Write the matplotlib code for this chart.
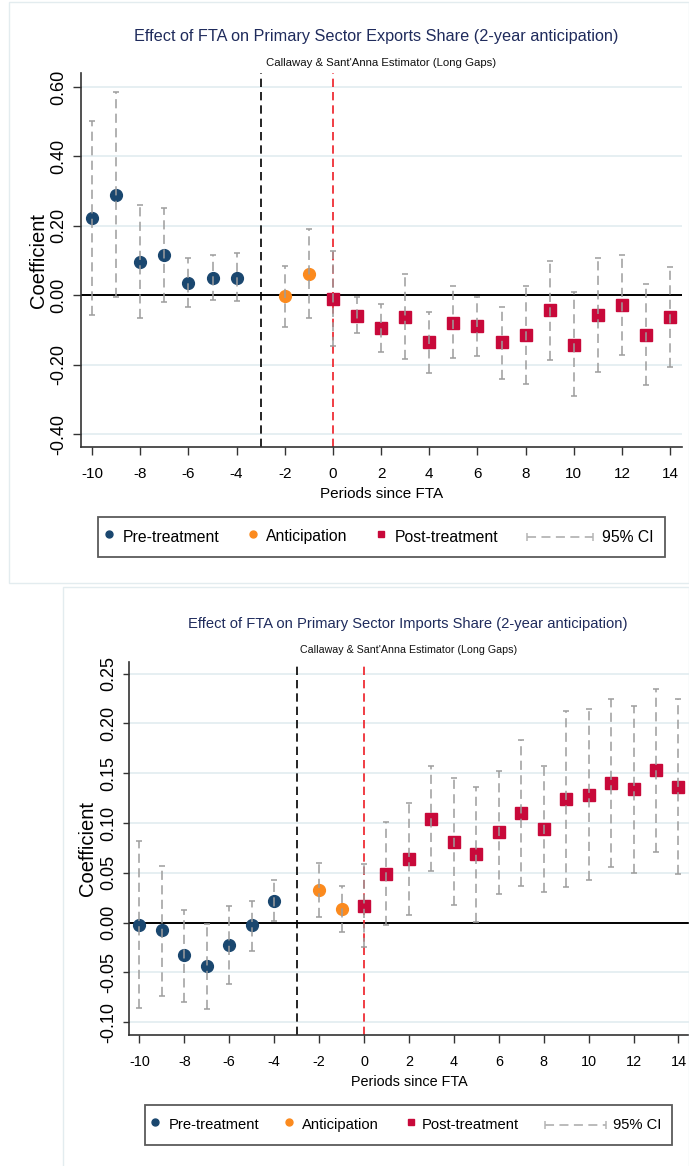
import matplotlib.pyplot as plt
import numpy as np
from matplotlib.lines import Line2D
from matplotlib.patches import Rectangle

plt.rcParams['font.family'] = ['Liberation Sans', 'DejaVu Sans']
plt.rcParams['axes.unicode_minus'] = False

W, H = 689, 1166

# event-time periods (period -3 is the omitted reference)
pre_periods = [-10, -9, -8, -7, -6, -5, -4]
ant_periods = [-2, -1]
post_periods = [0, 1, 2, 3, 4, 5, 6, 7, 8, 9, 10, 11, 12, 13, 14]

# exports share estimates and 95% bounds
exp_pre_coef = [0.223, 0.290, 0.096, 0.115, 0.036, 0.050, 0.051]
exp_pre_lo = [-0.058, -0.005, -0.065, -0.019, -0.034, -0.014, -0.017]
exp_pre_hi = [0.502, 0.586, 0.259, 0.252, 0.106, 0.117, 0.123]
exp_ant_coef = [-0.003, 0.060]
exp_ant_lo = [-0.091, -0.065]
exp_ant_hi = [0.084, 0.190]
exp_post_coef = [-0.012, -0.059, -0.093, -0.062, -0.135, -0.080, -0.089, -0.136,
                 -0.114, -0.043, -0.142, -0.058, -0.028, -0.115, -0.063]
exp_post_lo = [-0.146, -0.110, -0.163, -0.184, -0.223, -0.182, -0.175, -0.240,
               -0.256, -0.187, -0.291, -0.221, -0.171, -0.259, -0.206]
exp_post_hi = [0.127, -0.005, -0.024, 0.060, -0.048, 0.027, -0.005, -0.034,
               0.027, 0.100, 0.008, 0.108, 0.117, 0.031, 0.080]

# imports share estimates and 95% bounds
imp_pre_coef = [-0.003, -0.008, -0.033, -0.044, -0.023, -0.003, 0.022]
imp_pre_lo = [-0.086, -0.074, -0.080, -0.087, -0.062, -0.029, 0.002]
imp_pre_hi = [0.082, 0.057, 0.013, -0.001, 0.017, 0.022, 0.043]
imp_ant_coef = [0.033, 0.014]
imp_ant_lo = [0.006, -0.010]
imp_ant_hi = [0.060, 0.037]
imp_post_coef = [0.017, 0.049, 0.064, 0.104, 0.081, 0.069, 0.091, 0.110,
                 0.094, 0.124, 0.128, 0.140, 0.134, 0.153, 0.136]
imp_post_lo = [-0.025, -0.003, 0.008, 0.052, 0.018, 0.001, 0.029, 0.037,
               0.031, 0.036, 0.043, 0.056, 0.050, 0.071, 0.049]
imp_post_hi = [0.059, 0.101, 0.120, 0.157, 0.145, 0.136, 0.152, 0.183,
               0.157, 0.212, 0.214, 0.225, 0.218, 0.235, 0.225]

exp_yticks = [-0.40, -0.20, 0.00, 0.20, 0.40, 0.60]
imp_yticks = [-0.10, -0.05, 0.00, 0.05, 0.10, 0.15, 0.20, 0.25]
xticks = list(range(-10, 15, 2))

NAVY = '#1a476f'
ORANGE = '#fb8a1e'
CRIMSON = '#c8093a'
CI_GRAY = '#9d9d9d'
TITLE = '#1f2b5c'


def fx(x):
    return x / W


def fy(y):
    return 1 - y / H


def panel(ax, pre, ant, post, yticks, ylim, fs, ytick_len, ylab_pad):
    for per, (c, lo, hi), col, mk, ms in [
            (pre_periods, pre, NAVY, 'o', 8.5),
            (ant_periods, ant, ORANGE, 'o', 8.5),
            (post_periods, post, CRIMSON, 's', 8)]:
        c, lo, hi = np.array(c), np.array(lo), np.array(hi)
        ax.plot(per, c, ls='none', marker=mk, ms=ms, color=col, zorder=3)
        eb = ax.errorbar(per, c, yerr=[c - lo, hi - c], fmt='none', ecolor=CI_GRAY,
                         elinewidth=1.1, capsize=2.5, capthick=1.1, zorder=4)
        eb[2][0].set_linestyle((0, (6, 3.5)))

    ax.axhline(0, color='black', lw=1.4, zorder=2)
    ax.axvline(-3, color='black', lw=1.2, ls=(0, (5, 3)), zorder=2)
    ax.axvline(0, color='#ee1c25', lw=1.2, ls=(0, (5, 3)), zorder=2)

    ax.set_xlim(-10.46, 14.49)
    ax.set_ylim(*ylim)
    ax.set_xticks(xticks)
    ax.set_yticks(yticks)
    ax.set_yticklabels(['%.2f' % v for v in yticks], rotation=90, va='center', fontsize=13)
    ax.tick_params(axis='x', labelsize=11 * fs, length=5.5, width=1, color='#333333', pad=9)
    ax.tick_params(axis='y', length=ytick_len, width=1, color='#333333', pad=4)
    ax.grid(axis='y', color='#e4eef1', lw=1.3)
    ax.set_axisbelow(True)
    for side in ['top', 'right']:
        ax.spines[side].set_visible(False)
    for side in ['left', 'bottom']:
        ax.spines[side].set_color('#333333')
        ax.spines[side].set_linewidth(1.2)
    ax.set_xlabel('Periods since FTA', fontsize=11 * fs, labelpad=4)
    ax.set_ylabel('Coefficient', fontsize=14.5, labelpad=ylab_pad)


def key(fig, box, yc, mx, tx, ci, ci_tx, size):
    x0, y0, x1, y1 = box
    fig.add_artist(Rectangle((fx(x0), fy(y1)), (x1 - x0) / W, (y1 - y0) / H,
                             transform=fig.transFigure, facecolor='white',
                             edgecolor='#5a5a5a', lw=1.3))
    labels = ['Pre-treatment', 'Anticipation', 'Post-treatment']
    styles = [(NAVY, 'o'), (ORANGE, 'o'), (CRIMSON, 's')]
    for m, t, lab, (col, mk) in zip(mx, tx, labels, styles):
        fig.add_artist(Line2D([fx(m)], [fy(yc - 3)], marker=mk, ms=5, color=col,
                              ls='none', transform=fig.transFigure))
        fig.text(fx(t), fy(yc), lab, fontsize=size, va='center', ha='left')
    fig.add_artist(Line2D([fx(ci[0]), fx(ci[1])], [fy(yc), fy(yc)], color='#b5b5b5',
                          lw=1.3, ls=(0, (5, 3)), transform=fig.transFigure))
    fig.add_artist(Line2D([fx(ci[0]), fx(ci[1])], [fy(yc), fy(yc)], color='#b5b5b5',
                          lw=0, marker='|', ms=6, mew=1.1, transform=fig.transFigure))
    fig.text(fx(ci_tx), fy(yc), '95% CI', fontsize=size, va='center', ha='left')


fig = plt.figure(figsize=(W / 100, H / 100), dpi=100)

# faint outlines of the two graph regions
fig.add_artist(Rectangle((fx(9), fy(583)), (W - 9) / W, (583 - 2) / H,
                         transform=fig.transFigure, fill=False, ec='#e3ecef', lw=1))
fig.add_artist(Rectangle((fx(63), fy(H + 5)), (W - 63) / W, (H + 5 - 587) / H,
                         transform=fig.transFigure, fill=False, ec='#e3ecef', lw=1))

ax1 = fig.add_axes([fx(81), fy(447), (682 - 81) / W, (447 - 73) / H])
panel(ax1, (exp_pre_coef, exp_pre_lo, exp_pre_hi), (exp_ant_coef, exp_ant_lo, exp_ant_hi),
      (exp_post_coef, exp_post_lo, exp_post_hi), exp_yticks, (-0.437, 0.64), 1.0, 6, 1.5)
fig.text(fx(376), fy(36), 'Effect of FTA on Primary Sector Exports Share (2-year anticipation)',
         ha='center', va='center', fontsize=11.7, color=TITLE)
fig.text(fx(381), fy(63), "Callaway & Sant'Anna Estimator (Long Gaps)",
         ha='center', va='center', fontsize=8.2, color='#111111')
key(fig, (98, 517, 665, 557), 537, [109, 253, 381], [123, 266, 395], (527, 593), 602, 11.3)

ax2 = fig.add_axes([fx(129), fy(1035), (689.5 - 129) / W, (1035 - 661.7) / H])
panel(ax2, (imp_pre_coef, imp_pre_lo, imp_pre_hi), (imp_ant_coef, imp_ant_lo, imp_ant_hi),
      (imp_post_coef, imp_post_lo, imp_post_hi), imp_yticks, (-0.113, 0.262), 0.94, 4.5, 2)
fig.text(fx(408), fy(624), 'Effect of FTA on Primary Sector Imports Share (2-year anticipation)',
         ha='center', va='center', fontsize=10.6, color=TITLE)
fig.text(fx(409), fy(650), "Callaway & Sant'Anna Estimator (Long Gaps)",
         ha='center', va='center', fontsize=7.7, color='#111111')
key(fig, (145, 1105, 672, 1145), 1125, [155, 289, 411], [169, 302, 422], (545, 606), 613, 10.6)

fig.savefig('out.png', dpi=100)
